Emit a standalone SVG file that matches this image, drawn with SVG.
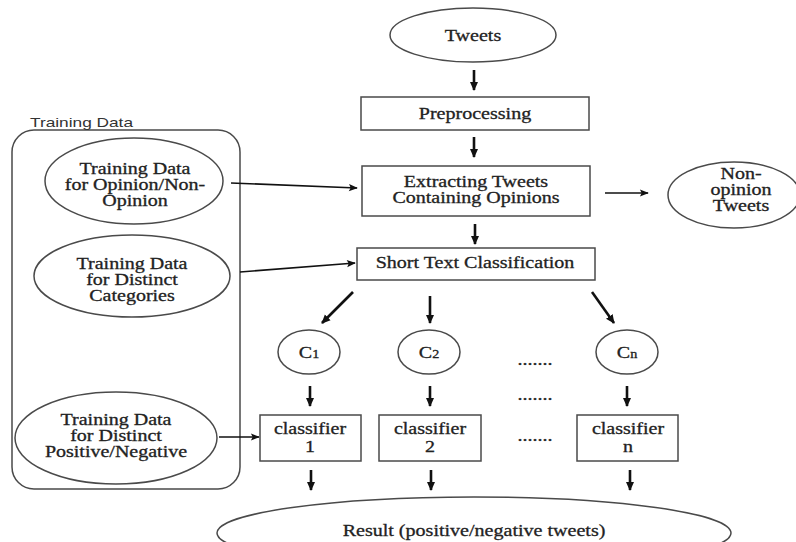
<svg xmlns="http://www.w3.org/2000/svg" width="796" height="542" viewBox="0 0 796 542">
<style>
.shape{fill:#fff;stroke:#4a4a4a;stroke-width:1.5}
.t{font-family:"Liberation Serif","Times New Roman",serif;font-size:17px;fill:#222;stroke:#222;stroke-width:0.3;text-anchor:middle}
.m{font-size:16px}
.sub{font-size:12px}
.lbl{font-family:"Liberation Sans",Arial,sans-serif;font-size:13px;fill:#333}
.thin{stroke:#111;stroke-width:1.6;fill:none;marker-end:url(#ah)}
.thick{stroke:#111;stroke-width:2.6;fill:none;marker-end:url(#ahb)}
</style>
<defs>
<marker id="ah" viewBox="0 0 10 10" refX="9" refY="5" markerWidth="11" markerHeight="9" markerUnits="userSpaceOnUse" orient="auto"><path d="M0,1 L10,5 L0,9 L2,5 z" fill="#111"/></marker>
<marker id="ahb" viewBox="0 0 10 10" refX="9" refY="5" markerWidth="9" markerHeight="10" markerUnits="userSpaceOnUse" orient="auto"><path d="M0,0.5 L10,5 L0,9.5 z" fill="#111"/></marker>
</defs>
<rect width="796" height="542" fill="#fff"/>

<g id="training-data">
<rect class="shape" x="12" y="130" width="228" height="359" rx="22"/>
<text class="lbl" x="30" y="127" textLength="103" lengthAdjust="spacingAndGlyphs">Training Data</text>
</g>

<g id="connectors">
<line class="thick" x1="474" y1="70" x2="474" y2="90"/>
<line class="thick" x1="474" y1="137" x2="474" y2="157"/>
<line class="thick" x1="475" y1="224" x2="475" y2="244"/>
<line class="thin" x1="605" y1="193" x2="648" y2="193"/>
<line class="thin" x1="231" y1="183" x2="357" y2="188"/>
<line class="thin" x1="240" y1="272" x2="355" y2="263"/>
<line class="thin" x1="219" y1="437" x2="259" y2="437"/>
<line class="thick" x1="353" y1="292" x2="322" y2="323"/>
<line class="thick" x1="430" y1="296" x2="430" y2="323"/>
<line class="thick" x1="592" y1="292" x2="614" y2="323"/>
<line class="thick" x1="310" y1="386" x2="310" y2="406"/>
<line class="thick" x1="430" y1="386" x2="430" y2="406"/>
<line class="thick" x1="627" y1="386" x2="627" y2="406"/>
<line class="thick" x1="311" y1="470" x2="311" y2="490"/>
<line class="thick" x1="431" y1="470" x2="431" y2="490"/>
<line class="thick" x1="630" y1="470" x2="630" y2="490"/>
</g>

<g id="tweets">
<ellipse class="shape" cx="473" cy="35" rx="83" ry="27"/>
<g transform="translate(473 0) scale(1.18 1)"><text class="t" x="0" y="41">Tweets</text></g>
</g>

<g id="preprocessing">
<rect class="shape" x="361" y="97" width="228" height="33"/>
<g transform="translate(475 0) scale(1.18 1)"><text class="t" x="0" y="119">Preprocessing</text></g>
</g>

<g id="extracting">
<rect class="shape" x="362" y="166" width="228" height="50"/>
<g transform="translate(476 0) scale(1.25 1)"><text class="t m" x="0" y="187">Extracting Tweets</text><text class="t m" x="0" y="203">Containing Opinions</text></g>
</g>

<g id="non-opinion">
<ellipse class="shape" cx="734" cy="195" rx="66" ry="33"/>
<g transform="translate(741 0) scale(1.25 1)"><text class="t m" x="0" y="179">Non-</text><text class="t m" x="0" y="195">opinion</text><text class="t m" x="0" y="211">Tweets</text></g>
</g>

<g id="short-text">
<rect class="shape" x="357" y="248" width="238" height="32"/>
<g transform="translate(475 0) scale(1.18 1)"><text class="t" x="0" y="268">Short Text Classification</text></g>
</g>

<g id="td-opinion">
<ellipse class="shape" cx="134" cy="181" rx="89" ry="43"/>
<g transform="translate(135 0) scale(1.25 1)"><text class="t m" x="0" y="174">Training Data</text><text class="t m" x="0" y="190">for Opinion/Non-</text><text class="t m" x="0" y="206">Opinion</text></g>
</g>

<g id="td-categories">
<ellipse class="shape" cx="132" cy="276" rx="98" ry="41"/>
<g transform="translate(132 0) scale(1.25 1)"><text class="t m" x="0" y="269">Training Data</text><text class="t m" x="0" y="285">for Distinct</text><text class="t m" x="0" y="301">Categories</text></g>
</g>

<g id="td-posneg">
<ellipse class="shape" cx="116" cy="438" rx="101" ry="46"/>
<g transform="translate(116 0) scale(1.25 1)"><text class="t m" x="0" y="425">Training Data</text><text class="t m" x="0" y="441">for Distinct</text><text class="t m" x="0" y="457">Positive/Negative</text></g>
</g>

<g id="c1">
<ellipse class="shape" cx="309" cy="352" rx="31" ry="22"/>
<g transform="translate(309 0) scale(1.18 1)"><text class="t" x="0" y="358">C<tspan class="sub">1</tspan></text></g>
</g>
<g id="c2">
<ellipse class="shape" cx="429" cy="352" rx="31" ry="22"/>
<g transform="translate(429 0) scale(1.18 1)"><text class="t" x="0" y="358">C<tspan class="sub">2</tspan></text></g>
</g>
<g id="cn">
<ellipse class="shape" cx="627" cy="352" rx="31" ry="22"/>
<g transform="translate(627 0) scale(1.18 1)"><text class="t" x="0" y="358">C<tspan class="sub">n</tspan></text></g>
</g>

<g id="dots">
<g transform="translate(535 0) scale(1.18 1)">
<text class="t" x="0" y="365">.......</text>
<text class="t" x="0" y="400">.......</text>
<text class="t" x="0" y="441">.......</text>
</g>
</g>

<g id="classifier1">
<rect class="shape" x="260" y="415" width="101" height="46"/>
<g transform="translate(310 0) scale(1.25 1)"><text class="t m" x="0" y="434">classifier</text><text class="t m" x="0" y="452">1</text></g>
</g>
<g id="classifier2">
<rect class="shape" x="379" y="415" width="102" height="46"/>
<g transform="translate(430 0) scale(1.25 1)"><text class="t m" x="0" y="434">classifier</text><text class="t m" x="0" y="452">2</text></g>
</g>
<g id="classifiern">
<rect class="shape" x="577" y="415" width="101" height="46"/>
<g transform="translate(628 0) scale(1.25 1)"><text class="t m" x="0" y="434">classifier</text><text class="t m" x="0" y="452">n</text></g>
</g>

<g id="result">
<ellipse class="shape" cx="474" cy="533" rx="257" ry="36"/>
<g transform="translate(474 0) scale(1.18 1)"><text class="t" x="0" y="536">Result (positive/negative tweets)</text></g>
</g>
</svg>
